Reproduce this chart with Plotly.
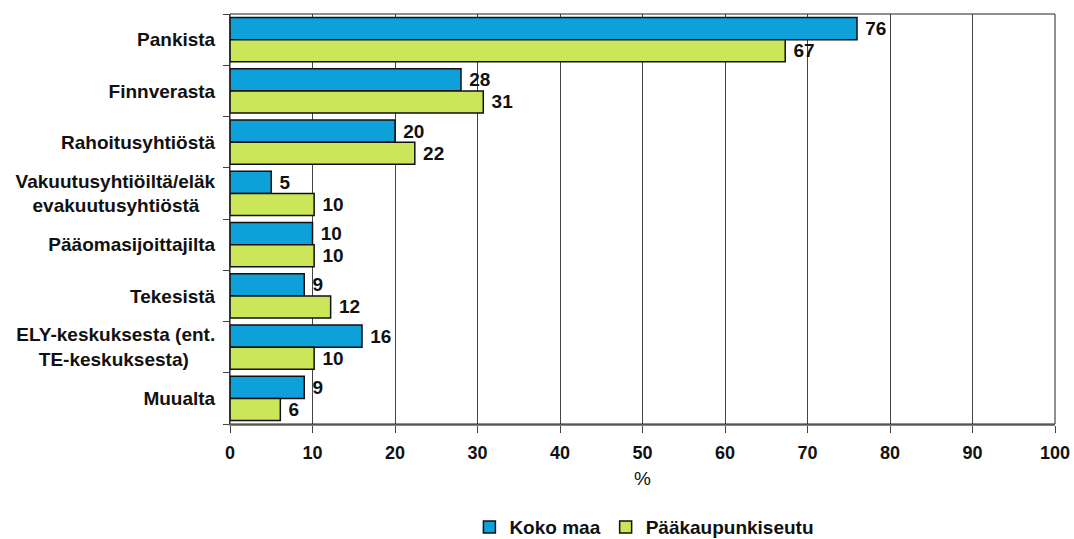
import plotly.graph_objects as go

categories = ["Pankista", "Finnverasta", "Rahoitusyhtiöstä",
              "Vakuutusyhtiöiltä/eläk<br>evakuutusyhtiöstä", "Pääomasijoittajilta",
              "Tekesistä", "ELY-keskuksesta (ent.<br>TE-keskuksesta)", "Muualta"]
koko_maa = [76, 28, 20, 5, 10, 9, 16, 9]
paakaupunkiseutu = [67.3, 30.7, 22.4, 10.2, 10.2, 12.2, 10.2, 6.1]
x_ticks = [0, 10, 20, 30, 40, 50, 60, 70, 80, 90, 100]

FONT = "Liberation Sans, Arial, sans-serif"
FS = 19
FT = 18


def centered_label(c):
    # pad the shorter line so two-line labels look centred
    lines = c.split("<br>")
    if len(lines) == 2:
        pad = {"evakuutusyhtiöstä": 3, "TE-keskuksesta)": 5}.get(lines[1], 0)
        lines[1] = lines[1] + "\u00a0" * pad
    return "<br>".join(f"<b>{l}</b>" for l in lines)


fig = go.Figure()
fig.add_trace(go.Bar(
    y=categories, x=koko_maa, name="<b>Koko maa</b>", orientation="h",
    marker=dict(color="#0EA0D8", line=dict(color="#111111", width=1.5)),
    text=koko_maa, texttemplate=" <b>%{x:.0f}</b>", textposition="outside",
    textfont=dict(family=FONT, size=FS, color="#111111"), cliponaxis=False,
))
fig.add_trace(go.Bar(
    y=categories, x=paakaupunkiseutu, name="<b>Pääkaupunkiseutu</b>", orientation="h",
    marker=dict(color="#CCE65A", line=dict(color="#111111", width=1.5)),
    text=paakaupunkiseutu, texttemplate=" <b>%{x:.0f}</b>", textposition="outside",
    textfont=dict(family=FONT, size=FS, color="#111111"), cliponaxis=False,
))

fig.update_layout(
    width=1074, height=539,
    margin=dict(l=230, r=19, t=14, b=115),
    barmode="group", bargap=0.14, bargroupgap=0,
    paper_bgcolor="white", plot_bgcolor="white",
    font=dict(family=FONT, size=FS, color="#111111"),
    showlegend=True,
    legend=dict(orientation="h", xref="container", yref="container",
                x=0.6, xanchor="center", y=0.022, yanchor="middle",
                font=dict(family=FONT, size=FS, color="#111111"),
                itemwidth=30, traceorder="normal"),
    xaxis=dict(range=[0, 100], tickvals=x_ticks, ticktext=[f"<b>{v}</b>" for v in x_ticks],
               showgrid=True, gridcolor="#444444", gridwidth=1,
               showline=True, linecolor="#888888", linewidth=1.5,
               ticks="outside", ticklen=7, tickcolor="#444444",
               tickfont=dict(family=FONT, size=FT, color="#111111"),
               ticklabelstandoff=5,
               title=dict(text="%", font=dict(family=FONT, size=FS, color="#111111"), standoff=9),
               mirror=False, zeroline=False, automargin=False),
    yaxis=dict(autorange="reversed", tickson="boundaries", ticks="outside", ticklen=6,
               tickcolor="#444444", showline=True, linecolor="#444444", linewidth=1,
               tickfont=dict(family=FONT, size=FS, color="#111111"),
               tickvals=categories, ticktext=[centered_label(c) for c in categories],
               ticklabelstandoff=10, showgrid=False, automargin=False),
)
# top and right border
fig.add_shape(type="rect", xref="paper", yref="paper", x0=0, x1=1, y0=0, y1=1,
              line=dict(color="#222222", width=1), layer="above")

fig.write_html("out.html", config={"displayModeBar": False},
               post_script="document.body.style.margin='0';document.body.style.overflow='hidden';")
